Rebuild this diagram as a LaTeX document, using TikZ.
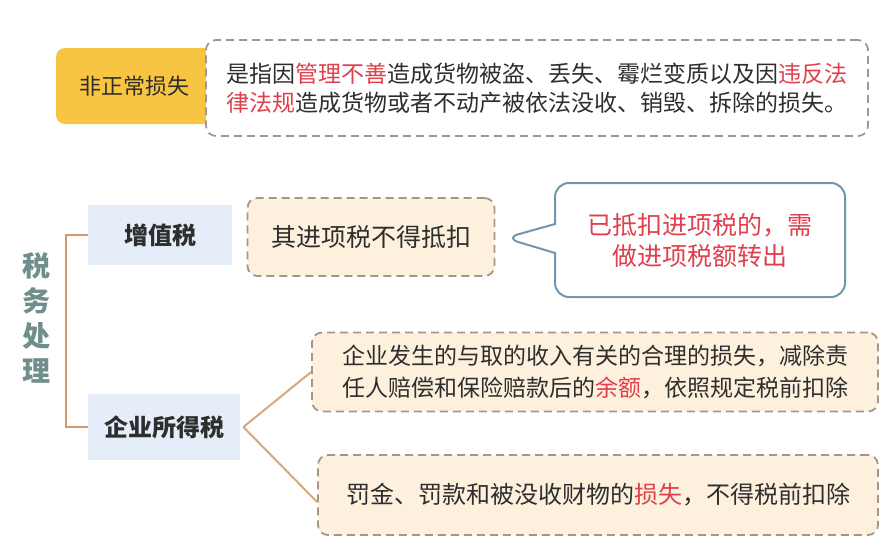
\documentclass[tikz,border=0pt]{standalone}
\usepackage{fontspec}
\setmainfont{Noto Sans CJK SC}
\usetikzlibrary{shapes.callouts,positioning}

\definecolor{lossyellow}{HTML}{F8C542}
\definecolor{dashbrown}{HTML}{A6968A}
\definecolor{notecream}{HTML}{FDF1DE}
\definecolor{taxblue}{HTML}{E4EDF8}
\definecolor{braceorange}{HTML}{D39A6C}
\definecolor{leadorange}{HTML}{D8A878}
\definecolor{hotred}{HTML}{E0404C}
\definecolor{titleteal}{HTML}{708E8C}
\definecolor{bubbleblue}{HTML}{6F98AE}
\definecolor{inkgrey}{HTML}{2E2E2E}

\newcommand{\hot}[1]{\textcolor{hotred}{#1}}

\begin{document}
\begin{tikzpicture}[x=1pt, y=-1pt, thick, text=inkgrey,
  note/.style={draw=dashbrown, line width=1.8pt, dash pattern=on 8pt off 5pt,
               rounded corners=10pt, fill=notecream, align=left},
  taxbox/.style={fill=taxblue, font=\fontsize{24}{28}\selectfont\bfseries},
  lead/.style={leadorange, line width=2pt}]

  \useasboundingbox (0,0) rectangle (895,558);

  % top row
  \node[fill=lossyellow, rounded corners=9pt, minimum width=156pt, minimum height=76pt,
        font=\fontsize{22}{26}\selectfont] (loss) at (134,86) {非正常损失};
  \node[note, fill=white, minimum width=662pt, minimum height=96pt,
        font=\fontsize{23}{29}\selectfont] (lossnote) at (537,88)
        {是指因\hot{管理不善}造成货物被盗、丢失、霉烂变质以及因\hot{违反法}\\
         \hot{律法规}造成货物或者不动产被依法没收、销毁、拆除的损失。};

  % tax side
  \node[text=titleteal, align=center, font=\fontsize{28}{35}\selectfont\bfseries] (title) at (36,318)
        {税\\务\\处\\理};
  \node[taxbox, minimum width=144pt, minimum height=60pt] (vat) at (160,235) {增值税};
  \node[taxbox, minimum width=152pt, minimum height=66pt] (cit) at (164,427) {企业所得税};

  \node[note, minimum width=247pt, minimum height=78pt,
        font=\fontsize{25}{30}\selectfont] (vatnote) at (371,237) {其进项税不得抵扣};
  \node[rectangle callout, draw=bubbleblue, line width=2pt, fill=white, rounded corners=14pt,
        minimum width=290pt, minimum height=114pt, align=center, text=hotred,
        callout absolute pointer={(505,238)}, callout pointer width=29pt,
        font=\fontsize{25}{31}\selectfont] (transfer) at (700,240)
        {已抵扣进项税的，需\\做进项税额转出};

  \node[note, minimum width=566pt, minimum height=79pt,
        font=\fontsize{23}{32}\selectfont] (deduct) at (595,372)
        {企业发生的与取的收入有关的合理的损失，减除责\\
         任人赔偿和保险赔款后的\hot{余额}，依照规定税前扣除};
  \node[note, minimum width=560pt, minimum height=80pt,
        font=\fontsize{24}{30}\selectfont] (fine) at (598,495)
        {罚金、罚款和被没收财物的\hot{损失}，不得税前扣除};

  % connectors
  \draw[braceorange, line width=2.2pt] (vat.west) -- ++(-22,0) |- (cit.west);
  \coordinate (fork) at ([xshift=3pt]cit.east);
  \draw[lead] (fork) -- (deduct.west);
  \draw[lead] (fork) -- ([yshift=-7pt]fine.west);

\end{tikzpicture}
\end{document}
